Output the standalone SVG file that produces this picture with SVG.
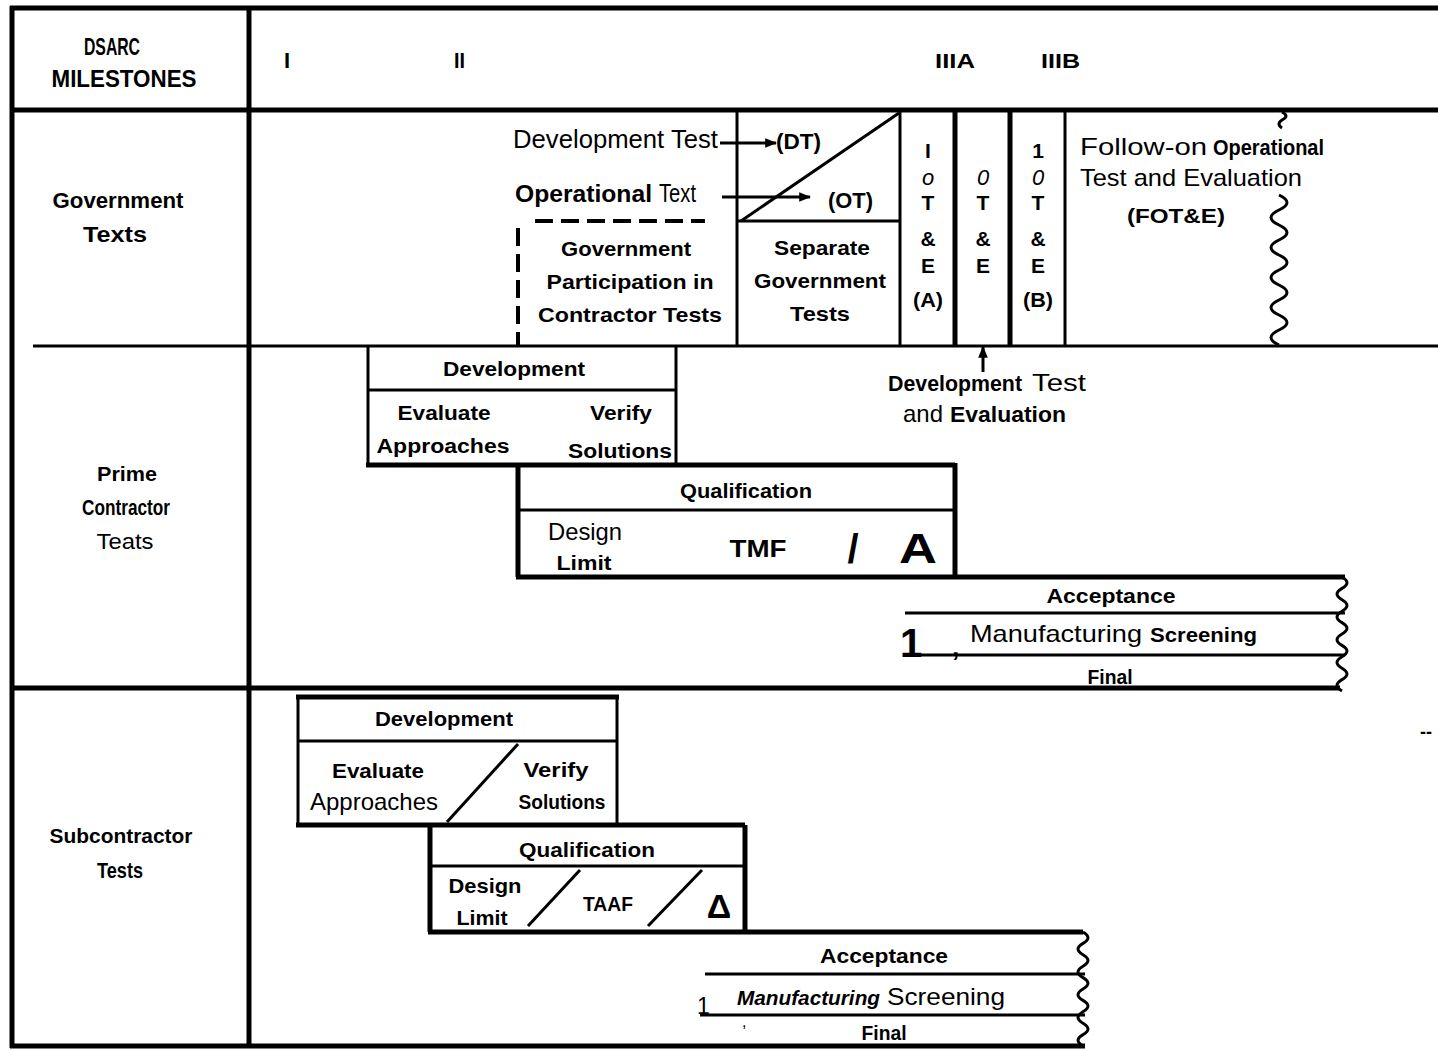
<svg xmlns="http://www.w3.org/2000/svg" width="1438" height="1050" viewBox="0 0 1438 1050">
<defs>
<style>
.t{font-family:"Liberation Sans Narrow","Liberation Sans",Arial,sans-serif;fill:#000}
.b{font-weight:bold}
.m{text-anchor:middle}
.i{font-style:italic}
.l{stroke:#000;fill:none;stroke-width:3}
.k{stroke:#000;fill:none;stroke-width:5}
.d{stroke:#000;fill:none;stroke-width:4;stroke-dasharray:18 8}
</style>
<marker id="ah" viewBox="0 0 10 10" refX="9" refY="5" markerWidth="4" markerHeight="4" orient="auto" markerUnits="strokeWidth">
<path d="M0,1 L10,5 L0,9 Z" fill="#000"/>
</marker>
</defs>
<rect width="1438" height="1050" fill="#fff"/>

<g id="frame">
<line class="k" x1="10" y1="8" x2="1438" y2="8"/>
<line class="k" x1="12" y1="6" x2="12" y2="1048"/>
<line class="k" x1="249" y1="6" x2="249" y2="1048"/>
<line class="k" x1="10" y1="110" x2="1438" y2="110"/>
<line class="l" x1="33" y1="346" x2="1438" y2="346"/>
<line class="k" x1="10" y1="688" x2="1340" y2="688"/>
<line class="k" x1="10" y1="1046" x2="1085" y2="1046"/>
</g>

<g id="row-labels">
<text class="t b m" x="112" y="55" font-size="24" textLength="56" lengthAdjust="spacingAndGlyphs">DSARC</text>
<text class="t b m" x="124" y="87" font-size="23" textLength="145" lengthAdjust="spacingAndGlyphs">MILESTONES</text>
<text class="t b m" x="118" y="208" font-size="22" textLength="131" lengthAdjust="spacingAndGlyphs">Government</text>
<text class="t b m" x="115" y="242" font-size="22" textLength="64" lengthAdjust="spacingAndGlyphs">Texts</text>
<text class="t b m" x="127" y="481" font-size="21" textLength="60" lengthAdjust="spacingAndGlyphs">Prime</text>
<text class="t b m" x="126" y="515" font-size="22" textLength="88" lengthAdjust="spacingAndGlyphs">Contractor</text>
<text class="t m" x="125" y="549" font-size="22" textLength="57" lengthAdjust="spacingAndGlyphs">Teats</text>
<text class="t b m" x="121" y="843" font-size="21" textLength="143" lengthAdjust="spacingAndGlyphs">Subcontractor</text>
<text class="t b m" x="120" y="878" font-size="22" textLength="46" lengthAdjust="spacingAndGlyphs">Tests</text>
</g>

<g id="milestones">
<text class="t b" x="284" y="68" font-size="22">I</text>
<text class="t b" x="454" y="68" font-size="22" textLength="11" lengthAdjust="spacingAndGlyphs">II</text>
<text class="t b" x="935" y="68" font-size="21" textLength="40" lengthAdjust="spacingAndGlyphs">IIIA</text>
<text class="t b" x="1041" y="68" font-size="21" textLength="39" lengthAdjust="spacingAndGlyphs">IIIB</text>
</g>

<g id="gov-dt-ot">
<text class="t" x="513" y="148" font-size="25" textLength="205" lengthAdjust="spacingAndGlyphs">Development Test</text>
<text class="t b" x="776" y="149" font-size="22" textLength="45" lengthAdjust="spacingAndGlyphs">(DT)</text>
<text class="t b" x="515" y="202" font-size="23" textLength="137" lengthAdjust="spacingAndGlyphs">Operational</text>
<text class="t" x="659" y="202" font-size="25" textLength="37" lengthAdjust="spacingAndGlyphs">Text</text>
<text class="t b" x="828" y="208" font-size="22" textLength="45" lengthAdjust="spacingAndGlyphs">(OT)</text>
<line class="l" x1="737" y1="110" x2="737" y2="346"/>
<line class="l" x1="737" y1="221" x2="900" y2="221"/>
<line class="l" x1="741" y1="221" x2="899" y2="113"/>
<line class="d" x1="535" y1="221" x2="705" y2="221"/>
<line class="d" x1="518" y1="228" x2="518" y2="346"/>
</g>

<g id="gov-participation">
<text class="t b m" x="626" y="256" font-size="21" textLength="130" lengthAdjust="spacingAndGlyphs">Government</text>
<text class="t b m" x="630" y="289" font-size="21" textLength="167" lengthAdjust="spacingAndGlyphs">Participation in</text>
<text class="t b m" x="630" y="322" font-size="21" textLength="184" lengthAdjust="spacingAndGlyphs">Contractor Tests</text>
</g>

<g id="gov-separate">
<text class="t b m" x="822" y="255" font-size="21" textLength="96" lengthAdjust="spacingAndGlyphs">Separate</text>
<text class="t b m" x="820" y="288" font-size="21" textLength="132" lengthAdjust="spacingAndGlyphs">Government</text>
<text class="t b m" x="820" y="321" font-size="21" textLength="60" lengthAdjust="spacingAndGlyphs">Tests</text>
</g>

<g id="iote-a">
<line class="l" x1="900" y1="110" x2="900" y2="346"/>
<text class="t b m" x="928" y="158" font-size="21">I</text>
<text class="t i m" x="928" y="185" font-size="22">o</text>
<text class="t b m" x="928" y="210" font-size="21">T</text>
<text class="t b m" x="928" y="246" font-size="21">&amp;</text>
<text class="t b m" x="928" y="273" font-size="21">E</text>
<text class="t b m" x="928" y="307" font-size="21" textLength="30" lengthAdjust="spacingAndGlyphs">(A)</text>
</g>

<g id="ote">
<line class="k" x1="955" y1="110" x2="955" y2="346"/>
<text class="t i m" x="983" y="185" font-size="22">0</text>
<text class="t b m" x="983" y="210" font-size="21">T</text>
<text class="t b m" x="983" y="246" font-size="21">&amp;</text>
<text class="t b m" x="983" y="273" font-size="21">E</text>
</g>

<g id="iote-b">
<line class="k" x1="1010" y1="110" x2="1010" y2="346"/>
<text class="t b m" x="1038" y="158" font-size="21">1</text>
<text class="t i m" x="1038" y="185" font-size="22">0</text>
<text class="t b m" x="1038" y="210" font-size="21">T</text>
<text class="t b m" x="1038" y="246" font-size="21">&amp;</text>
<text class="t b m" x="1038" y="273" font-size="21">E</text>
<text class="t b m" x="1038" y="307" font-size="21" textLength="30" lengthAdjust="spacingAndGlyphs">(B)</text>
<line class="l" x1="1065" y1="110" x2="1065" y2="346"/>
</g>

<g id="fote">
<text class="t" x="1080" y="155" font-size="24" textLength="127" lengthAdjust="spacingAndGlyphs">Follow-on</text>
<text class="t b" x="1213" y="155" font-size="22" textLength="111" lengthAdjust="spacingAndGlyphs">Operational</text>
<text class="t" x="1080" y="186" font-size="24" textLength="222" lengthAdjust="spacingAndGlyphs">Test and Evaluation</text>
<text class="t b" x="1127" y="223" font-size="21" textLength="98" lengthAdjust="spacingAndGlyphs">(FOT&amp;E)</text>
<path class="l" d="M1282,112 q8,4 0,8 q-6,4 0,8"/>
<path class="l" d="M1279,195 q16,7.5 0,15 t0,15 t0,15 t0,15 t0,15 t0,15 t0,15 t0,15 t0,15 t0,15"/>
</g>

<g id="dte-label">
<text class="t b" x="888" y="391" font-size="22" textLength="134" lengthAdjust="spacingAndGlyphs">Development</text>
<text class="t" x="1032" y="391" font-size="24" textLength="54" lengthAdjust="spacingAndGlyphs">Test</text>
<text class="t" x="903" y="422" font-size="24" textLength="40" lengthAdjust="spacingAndGlyphs">and</text>
<text class="t b" x="950" y="422" font-size="22" textLength="116" lengthAdjust="spacingAndGlyphs">Evaluation</text>
</g>

<g id="prime-development">
<line class="l" x1="368" y1="346" x2="368" y2="465"/>
<line class="l" x1="676" y1="346" x2="676" y2="465"/>
<line class="l" x1="368" y1="390" x2="676" y2="390"/>
<text class="t b m" x="514" y="376" font-size="20" textLength="142" lengthAdjust="spacingAndGlyphs">Development</text>
<text class="t b m" x="444" y="420" font-size="20" textLength="93" lengthAdjust="spacingAndGlyphs">Evaluate</text>
<text class="t b m" x="443" y="453" font-size="20" textLength="133" lengthAdjust="spacingAndGlyphs">Approaches</text>
<text class="t b m" x="621" y="420" font-size="20" textLength="62" lengthAdjust="spacingAndGlyphs">Verify</text>
<text class="t b m" x="620" y="458" font-size="20" textLength="104" lengthAdjust="spacingAndGlyphs">Solutions</text>
<line class="k" x1="366" y1="465" x2="955" y2="465"/>
</g>

<g id="prime-qualification">
<line class="k" x1="518" y1="465" x2="518" y2="577"/>
<line class="k" x1="955" y1="463" x2="955" y2="577"/>
<line class="l" x1="518" y1="510" x2="955" y2="510"/>
<text class="t b m" x="746" y="498" font-size="20" textLength="132" lengthAdjust="spacingAndGlyphs">Qualification</text>
<text class="t m" x="585" y="540" font-size="24" textLength="74" lengthAdjust="spacingAndGlyphs">Design</text>
<text class="t b m" x="584" y="570" font-size="20" textLength="55" lengthAdjust="spacingAndGlyphs">Limit</text>
<text class="t b m" x="758" y="557" font-size="24" textLength="57" lengthAdjust="spacingAndGlyphs">TMF</text>
<text class="t b m" x="853" y="563" font-size="40">/</text>
<text class="t b m" x="918" y="563" font-size="42" textLength="38" lengthAdjust="spacingAndGlyphs">A</text>
<line class="k" x1="516" y1="577" x2="1345" y2="577"/>
</g>

<g id="prime-acceptance">
<line class="l" x1="905" y1="613" x2="1345" y2="613"/>
<line class="l" x1="905" y1="655" x2="1345" y2="655"/>
<text class="t b m" x="1111" y="603" font-size="20" textLength="129" lengthAdjust="spacingAndGlyphs">Acceptance</text>
<text class="t" x="970" y="642" font-size="24" textLength="172" lengthAdjust="spacingAndGlyphs">Manufacturing</text>
<text class="t b" x="1150" y="642" font-size="21" textLength="107" lengthAdjust="spacingAndGlyphs">Screening</text>
<text class="t b m" x="1110" y="684" font-size="20" textLength="45" lengthAdjust="spacingAndGlyphs">Final</text>
<text class="t b" x="900" y="657" font-size="40">1</text>
<text class="t b" x="952" y="656" font-size="26">,</text>
<path class="l" d="M1342,577 q10,5.7 0,11.4 t0,11.4 t0,11.4 t0,11.4 t0,11.4 t0,11.4 t0,11.4 t0,11.4 t0,11.4 t0,11.4"/>
</g>

<g id="sub-development">
<line class="k" x1="296" y1="697" x2="619" y2="697"/>
<line class="l" x1="298" y1="697" x2="298" y2="825"/>
<line class="l" x1="617" y1="697" x2="617" y2="825"/>
<line class="l" x1="298" y1="741" x2="617" y2="741"/>
<line class="l" x1="518" y1="744" x2="447" y2="822" stroke-width="2"/>
<text class="t b m" x="444" y="726" font-size="20" textLength="138" lengthAdjust="spacingAndGlyphs">Development</text>
<text class="t b m" x="378" y="778" font-size="20" textLength="92" lengthAdjust="spacingAndGlyphs">Evaluate</text>
<text class="t m" x="374" y="810" font-size="24" textLength="128" lengthAdjust="spacingAndGlyphs">Approaches</text>
<text class="t b m" x="556" y="777" font-size="20" textLength="65" lengthAdjust="spacingAndGlyphs">Verify</text>
<text class="t b m" x="562" y="809" font-size="20" textLength="87" lengthAdjust="spacingAndGlyphs">Solutions</text>
<line class="k" x1="296" y1="825" x2="745" y2="825"/>
</g>

<g id="sub-qualification">
<line class="k" x1="430" y1="825" x2="430" y2="932"/>
<line class="k" x1="745" y1="825" x2="745" y2="932"/>
<line class="l" x1="430" y1="866" x2="745" y2="866"/>
<line class="l" x1="580" y1="870" x2="528" y2="926" stroke-width="2"/>
<line class="l" x1="702" y1="870" x2="648" y2="926" stroke-width="2"/>
<text class="t b m" x="587" y="857" font-size="20" textLength="136" lengthAdjust="spacingAndGlyphs">Qualification</text>
<text class="t b m" x="485" y="893" font-size="21" textLength="73" lengthAdjust="spacingAndGlyphs">Design</text>
<text class="t b m" x="482" y="925" font-size="21" textLength="51" lengthAdjust="spacingAndGlyphs">Limit</text>
<text class="t b m" x="608" y="911" font-size="20" textLength="50" lengthAdjust="spacingAndGlyphs">TAAF</text>
<text class="t b m" x="719" y="918" font-size="34">Δ</text>
<line class="k" x1="428" y1="932" x2="1083" y2="932"/>
</g>

<g id="sub-acceptance">
<line class="l" x1="705" y1="974" x2="1085" y2="974"/>
<line class="l" x1="700" y1="1015" x2="1085" y2="1015"/>
<text class="t b m" x="884" y="963" font-size="20" textLength="128" lengthAdjust="spacingAndGlyphs">Acceptance</text>
<text class="t b i" x="737" y="1005" font-size="21" textLength="143" lengthAdjust="spacingAndGlyphs">Manufacturing</text>
<text class="t" x="887" y="1005" font-size="24" textLength="118" lengthAdjust="spacingAndGlyphs">Screening</text>
<text class="t b m" x="884" y="1040" font-size="20" textLength="45" lengthAdjust="spacingAndGlyphs">Final</text>
<text class="t" x="697" y="1014" font-size="23">1</text>
<text class="t" x="742" y="1027" font-size="16">,</text>
<path class="l" d="M1083,932 q10,5.7 0,11.4 t0,11.4 t0,11.4 t0,11.4 t0,11.4 t0,11.4 t0,11.4 t0,11.4 t0,11.4 t0,11.4"/>
</g>

<g id="misc">
<text class="t b" x="1420" y="738" font-size="18">--</text>
</g>

<g id="connectors">
<line class="l" x1="720" y1="143" x2="776" y2="143" marker-end="url(#ah)"/>
<line class="l" x1="722" y1="197" x2="810" y2="197" marker-end="url(#ah)"/>
<line class="l" x1="983" y1="372" x2="983" y2="347" marker-end="url(#ah)"/>
</g>
</svg>
